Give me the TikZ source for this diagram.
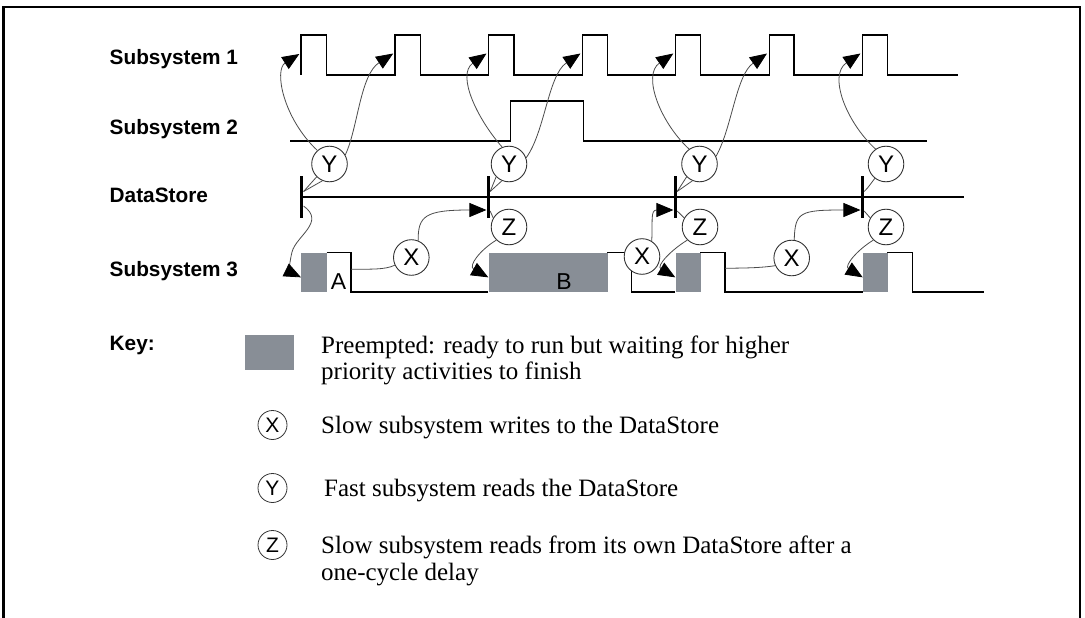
\documentclass[tikz,border=0pt]{standalone}
\usepackage{fontspec}
\setmainfont{Liberation Serif}
\setsansfont{Liberation Sans}
\usetikzlibrary{arrows.meta}
\definecolor{preempt}{RGB}{136,142,150}
\definecolor{connc}{RGB}{75,75,75}
\begin{document}
\begin{tikzpicture}[x=1pt,y=-1pt,
 sig/.style={line width=1.3pt,line join=miter},
 lbl/.style={font=\sffamily\bfseries\fontsize{20.8}{24}\selectfont,anchor=base west,inner sep=0},
 ev/.style={circle,draw=black!80,line width=0.9pt,fill=white,minimum size=35.6pt,inner sep=0,font=\sffamily\fontsize{24}{24}\selectfont},
 kev/.style={circle,draw=black!80,line width=0.8pt,minimum size=29pt,inner sep=0,font=\sffamily\fontsize{21}{21}\selectfont},
 arr/.style={draw=connc,line width=0.8pt,-{Triangle[length=17pt,width=14pt,color=black]}},
 link/.style={draw=connc,line width=0.8pt},
 dsbar/.style={fill=black,inner sep=0,minimum width=3.3pt,minimum height=42.6pt},
 blk/.style={fill=preempt,inner sep=0,anchor=north west,minimum height=39.7pt},
 keytxt/.style={font=\fontsize{25}{26.5}\selectfont,anchor=base west,inner sep=0},
]
\useasboundingbox (0,0) rectangle (1085,618);
% frame
\draw[line width=2.5pt] (3.5,618) -- (3.5,7) -- (1080,7) -- (1080,618);

% row labels
\node[lbl] (l1) at (109.5,65) {Subsystem 1};
\node[lbl] (l2) at (109.5,135) {Subsystem 2};
\node[lbl] (l3) at (109.5,202.5) {DataStore};
\node[lbl] (l4) at (109.5,276.5) {Subsystem 3};
\node[lbl] (lk) at (109.5,350) {Key:};

% Subsystem 1
\draw[sig] (301,75)--(301,35)--(326.5,35)--(326.5,75)--(395,75)--(395,35)--(420.5,35)--(420.5,75)
 --(488.3,75)--(488.3,35)--(514,35)--(514,75)--(582.7,75)--(582.7,35)--(607.7,35)--(607.7,75)
 --(675.3,75)--(675.3,35)--(700.3,35)--(700.3,75)--(769.3,75)--(769.3,35)--(794,35)--(794,75)
 --(862.7,75)--(862.7,35)--(887.3,35)--(887.3,75)--(958,75);
% Subsystem 2
\draw[sig] (290,141)--(510.7,141)--(510.7,101)--(583.3,101)--(583.3,141)--(926.7,141);
% DataStore
\draw[sig] (301.7,197)--(964,197);
\node[dsbar] (b1) at (301.7,197) {};
\node[dsbar] (b2) at (488.3,197) {};
\node[dsbar] (b3) at (675.3,197) {};
\node[dsbar] (b4) at (862.3,197) {};
% Subsystem 3
\node[blk,minimum width=25.7pt] (ga) at (301,252.3) {};
\node[blk,minimum width=119pt] (gb) at (488.3,252.3) {};
\node[blk,minimum width=25pt] (gc) at (675.3,252.3) {};
\node[blk,minimum width=24.6pt] (gd) at (862.7,252.3) {};
\draw[sig] (326.7,252.3)--(351,252.3)--(351,292)--(488.3,292);
\draw[sig] (607.3,252.3)--(631.7,252.3)--(631.7,292)--(675.3,292);
\draw[sig] (700.3,252.3)--(725,252.3)--(725,292)--(862.7,292);
\draw[sig] (887.3,252.3)--(912.7,252.3)--(912.7,292)--(984,292);
\node[font=\sffamily\fontsize{23}{23}\selectfont,inner sep=0,anchor=base] (la) at (338.5,289) {A};
\node[font=\sffamily\fontsize{23}{23}\selectfont,inner sep=0,anchor=base] (lb) at (564,289) {B};

% pulse targets
\coordinate (t1) at (299.3,54);
\coordinate (t2) at (393.2,53.5);
\coordinate (t3) at (486.5,53.5);
\coordinate (t4) at (580.5,53.5);
\coordinate (t5) at (673.3,53.5);
\coordinate (t6) at (767,53.5);
\coordinate (t7) at (860.5,53.5);
\coordinate (a1) at (351,269.3);
\coordinate (c1) at (725,268.3);

% event circles
\node[ev] (Y1) at (329.5,164) {Y};
\node[ev] (Y2) at (509,164) {Y};
\node[ev] (Y3) at (699.5,164) {Y};
\node[ev] (Y4) at (886,164) {Y};
\node[ev] (Z1) at (509,227) {Z};
\node[ev] (Z2) at (700,227) {Z};
\node[ev] (Z3) at (886,227) {Z};
\node[ev] (X1) at (411.3,257.5) {X};
\node[ev] (X2) at (642,256.5) {X};
\node[ev] (X3) at (791.7,258) {X};

% Y reads
\draw[arr] (Y1.132) .. controls (283,118) and (274,70) .. (t1);
\draw[arr] (Y1.30) .. controls (358,128) and (360,75) .. (t2);
\draw[link] (Y1.225) -- ([yshift=5.5pt]b1.east);
\draw[link] (Y1.247) -- ([yshift=5.5pt]b1.east);

\draw[arr] (Y2.112) .. controls (478,120) and (456,75) .. (t3);
\draw[arr] (Y2.20) .. controls (545,132) and (548,75) .. (t4);
\draw[link] (Y2.225) -- ([yshift=5.5pt]b2.east);
\draw[link] (Y2.247) -- ([yshift=5.5pt]b2.east);

\draw[arr] (Y3.125) .. controls (660,122) and (642,75) .. (t5);
\draw[arr] (Y3.25) .. controls (732,128) and (736,75) .. (t6);
\draw[link] (Y3.225) -- ([yshift=5.5pt]b3.east);
\draw[link] (Y3.247) -- ([yshift=5.5pt]b3.east);

\draw[arr] (Y4.125) .. controls (846,122) and (828,75) .. (t7);
\draw[link] (Y4.232) .. controls (872,182) and (868,188) .. ([yshift=5.5pt]b4.east);

% X writes
\draw[link] (a1) .. controls (370,269) and (385,270) .. (X1.205);
\draw[arr] (X1.68) .. controls (418,216) and (425,210) .. ([yshift=-13pt]b2.west);
\draw[arr] (X2.58) .. controls (653,222) and (650,210) .. ([yshift=-13pt]b3.west);
\draw[link] (c1) .. controls (745,268) and (760,268) .. (X3.205);
\draw[arr] (X3.82) .. controls (795,212) and (800,210) .. ([yshift=-13pt]b4.west);

% Z reads
\draw[link] ([yshift=-14pt]b2.east) -- (Z1.150);
\draw[link] ([yshift=-14pt]b3.east) -- (Z2.150);
\draw[link] ([yshift=-14pt]b4.east) -- (Z3.150);
\draw[arr] (Z1.226) .. controls (480,250) and (468,266) .. ([yshift=-5pt]gb.west);
\draw[arr] (Z2.226) .. controls (671,250) and (656,266) .. ([yshift=-5pt]gc.west);
\draw[arr] (Z3.226) .. controls (857,250) and (844,266) .. ([yshift=-5pt]gd.west);
\draw[arr] ([yshift=-9pt]b1.east) .. controls (326,222) and (296,236) .. (292,252)
  .. controls (289,264) and (290,272) .. ([yshift=-5pt]ga.west);

% key
\node[fill=preempt,inner sep=0,minimum width=49pt,minimum height=35pt,anchor=north west] (kbox) at (245,335) {};
\node[keytxt] (k1a) at (321,353) {Preempted: ready to run but waiting for higher};
\node[keytxt] (k1b) at (321,379.5) {priority activities to finish};
\node[kev] (kx) at (272.5,425) {X};
\node[keytxt] (k2) at (321,433) {Slow subsystem writes to the DataStore};
\node[kev] (ky) at (272.5,488) {Y};
\node[keytxt] (k3) at (324,496) {Fast subsystem reads the DataStore};
\node[kev] (kz) at (272.5,545) {Z};
\node[keytxt] (k4a) at (321,553.5) {Slow subsystem reads from its own DataStore after a};
\node[keytxt] (k4b) at (321,580) {one-cycle delay};
\end{tikzpicture}
\end{document}
